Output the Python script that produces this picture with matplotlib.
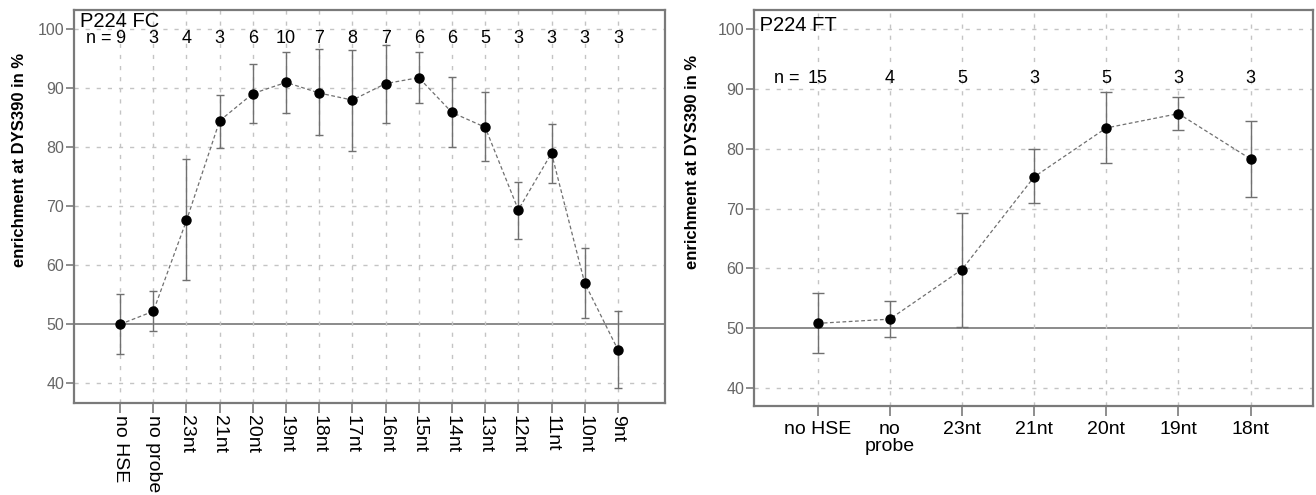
import numpy as np
import matplotlib
matplotlib.use("Agg")
import matplotlib.pyplot as plt

plt.rcParams["font.family"] = ["Liberation Sans", "DejaVu Sans"]

# P224 FC panel
fc_labels = ["no HSE", "no probe", "23nt", "21nt", "20nt", "19nt", "18nt", "17nt",
             "16nt", "15nt", "14nt", "13nt", "12nt", "11nt", "10nt", "9nt"]
fc_mean = [50.0, 52.2, 67.6, 84.5, 89.1, 91.0, 89.2, 88.0, 90.8, 91.8, 85.9, 83.4, 69.4, 79.0, 57.0, 45.7]
fc_low = [45.0, 48.8, 57.5, 79.9, 84.1, 85.8, 82.0, 79.3, 84.1, 87.5, 80.0, 77.6, 64.5, 74.0, 51.0, 39.2]
fc_high = [55.1, 55.6, 78.1, 88.8, 94.2, 96.2, 96.6, 96.5, 97.4, 96.1, 91.9, 89.3, 74.2, 83.9, 63.0, 52.2]
fc_n = [9, 3, 4, 3, 6, 10, 7, 8, 7, 6, 6, 5, 3, 3, 3, 3]

# P224 FT panel
ft_labels = ["no HSE", "no\nprobe", "23nt", "21nt", "20nt", "19nt", "18nt"]
ft_mean = [50.8, 51.5, 59.8, 75.3, 83.5, 85.9, 78.3]
ft_low = [45.9, 48.5, 50.2, 70.9, 77.6, 83.1, 72.0]
ft_high = [55.9, 54.6, 69.3, 79.9, 89.6, 88.7, 84.7]
ft_n = [15, 4, 5, 3, 5, 3, 3]

YTICKS = [40, 50, 60, 70, 80, 90, 100]
GREY = "#7a7a7a"


def draw_panel(ax, labels, mean, low, high, n, title, n_y, capsize, rot):
    x = np.arange(len(labels))
    mean = np.array(mean)
    yerr = [mean - np.array(low), np.array(high) - mean]

    # grid
    for yv in YTICKS:
        if yv == 50:
            ax.axhline(yv, color="#8a8a8a", lw=1.4, zorder=1)
        else:
            ax.axhline(yv, color="#c4c4c4", lw=1.0, ls=(0, (3, 5)), zorder=1)
    for xv in x:
        ax.axvline(xv, color="#c4c4c4", lw=1.0, ls=(0, (3, 5)), zorder=1)

    ax.errorbar(x, mean, yerr=yerr, fmt="none", ecolor="#707070", elinewidth=1.0,
                capsize=capsize, capthick=1.0, zorder=2)
    ax.plot(x, mean, color="#707070", lw=0.9, ls=(0, (3, 2)), zorder=3)
    ax.plot(x, mean, "o", color="black", ms=6.5, zorder=4)

    ax.set_yticks(YTICKS)
    ax.set_xticks(x)
    if rot:
        ax.set_xticklabels(labels, rotation=-90, va="top", ha="center", fontsize=14)
    else:
        ax.set_xticklabels(labels, fontsize=14, linespacing=1.0)
    ax.tick_params(axis="y", colors=GREY, labelcolor="#666666", labelsize=11.5,
                   length=6, width=1.2, pad=1)
    ax.tick_params(axis="x", colors=GREY, labelcolor="black", length=7.5, width=1.2,
                   pad=1 if rot else 3)
    for sp in ax.spines.values():
        sp.set_color(GREY)
        sp.set_linewidth(1.6)

    ax.text(0.01, 0.995, title, transform=ax.transAxes, ha="left", va="top",
            fontsize=14.5)
    ax.text(-0.25, n_y, "n =", ha="right", va="center", fontsize=13)
    for xi, ni in zip(x, n):
        ax.text(xi, n_y, str(ni), ha="center", va="center", fontsize=13)


fig = plt.figure(figsize=(13.16, 4.95), dpi=100)
ax1 = fig.add_axes([0.05623, 0.18586, 0.44909, 0.79394])
ax2 = fig.add_axes([0.57295, 0.17980, 0.42454, 0.80000])

draw_panel(ax1, fc_labels, fc_mean, fc_low, fc_high, fc_n, "P224 FC", 98.5, 2.9, True)
ax1.set_xlim(-1.39, 16.42)
ax1.set_ylim(36.66, 103.27)

draw_panel(ax2, ft_labels, ft_mean, ft_low, ft_high, ft_n, " P224 FT", 91.8, 4.0, False)
ax2.set_xlim(-0.88, 6.86)
ax2.set_ylim(36.97, 103.24)
ax2.texts[0].set_position((0.0, 0.985))

fig.text(20 / 1316, 1 - 160 / 495, "enrichment at DYS390 in %", rotation=90,
         ha="center", va="center", fontsize=12, fontweight="bold")
fig.text(692 / 1316, 1 - 162 / 495, "enrichment at DYS390 in %", rotation=90,
         ha="center", va="center", fontsize=12, fontweight="bold")

fig.savefig("out.png", dpi=100)
